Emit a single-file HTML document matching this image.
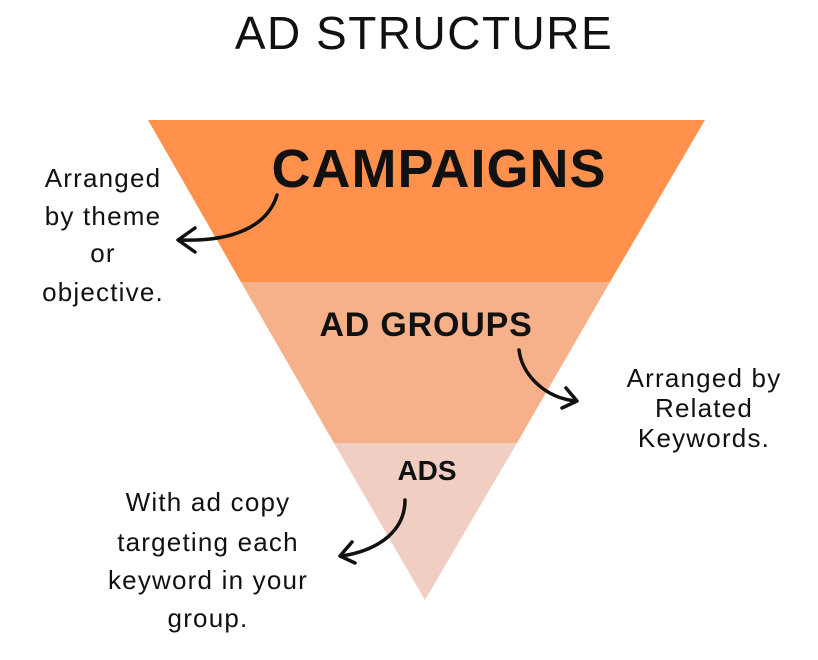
<!DOCTYPE html>
<html><head><style>
body{margin:0;width:818px;height:655px;background:#fff;overflow:hidden;font-family:"Liberation Sans",sans-serif;}
</style></head><body>
<svg width="818" height="655" viewBox="0 0 818 655" xmlns="http://www.w3.org/2000/svg" font-family="Liberation Sans, sans-serif">
<polygon points="148,120 705,120 610,282 241,282" fill="#FF914D"/>
<polygon points="241,282 610,282 517,443 334,443" fill="#F6B08A"/>
<polygon points="334,443 517,443 425,600" fill="#F0CFC2"/>
<text x="424" y="49" font-size="46" text-anchor="middle" fill="#111" letter-spacing="1.5">AD STRUCTURE</text>
<text x="439" y="187" font-size="54" font-weight="bold" text-anchor="middle" fill="#111" letter-spacing="1">CAMPAIGNS</text>
<text x="426" y="336" font-size="34" font-weight="bold" text-anchor="middle" fill="#111" letter-spacing="0.8">AD GROUPS</text>
<text x="427" y="480" font-size="28" font-weight="bold" text-anchor="middle" fill="#111">ADS</text>
<g font-size="26" fill="#111" text-anchor="middle" letter-spacing="1.2">
<text x="103" y="187">Arranged</text>
<text x="103" y="225">by theme</text>
<text x="103" y="262">or</text>
<text x="103" y="301">objective.</text>
<text x="704" y="387">Arranged by</text>
<text x="704" y="417">Related</text>
<text x="704" y="447">Keywords.</text>
<text x="208" y="511">With ad copy</text>
<text x="208" y="551">targeting each</text>
<text x="208" y="589">keyword in your</text>
<text x="208" y="627">group.</text>
</g>
<g fill="none" stroke="#111" stroke-width="3.5" stroke-linecap="round" stroke-linejoin="round">
<path d="M277,195 C268,225 235,242 180,240"/>
<path d="M195,228 L178,240 L195,252"/>
<path d="M519,350 C522,375 545,398 576,401"/>
<path d="M566,388 L577,401 L562,408"/>
<path d="M405,500 C405,530 380,550 342,556"/>
<path d="M352,542 L340,556 L355,563"/>
</g>
</svg>
</body></html>
